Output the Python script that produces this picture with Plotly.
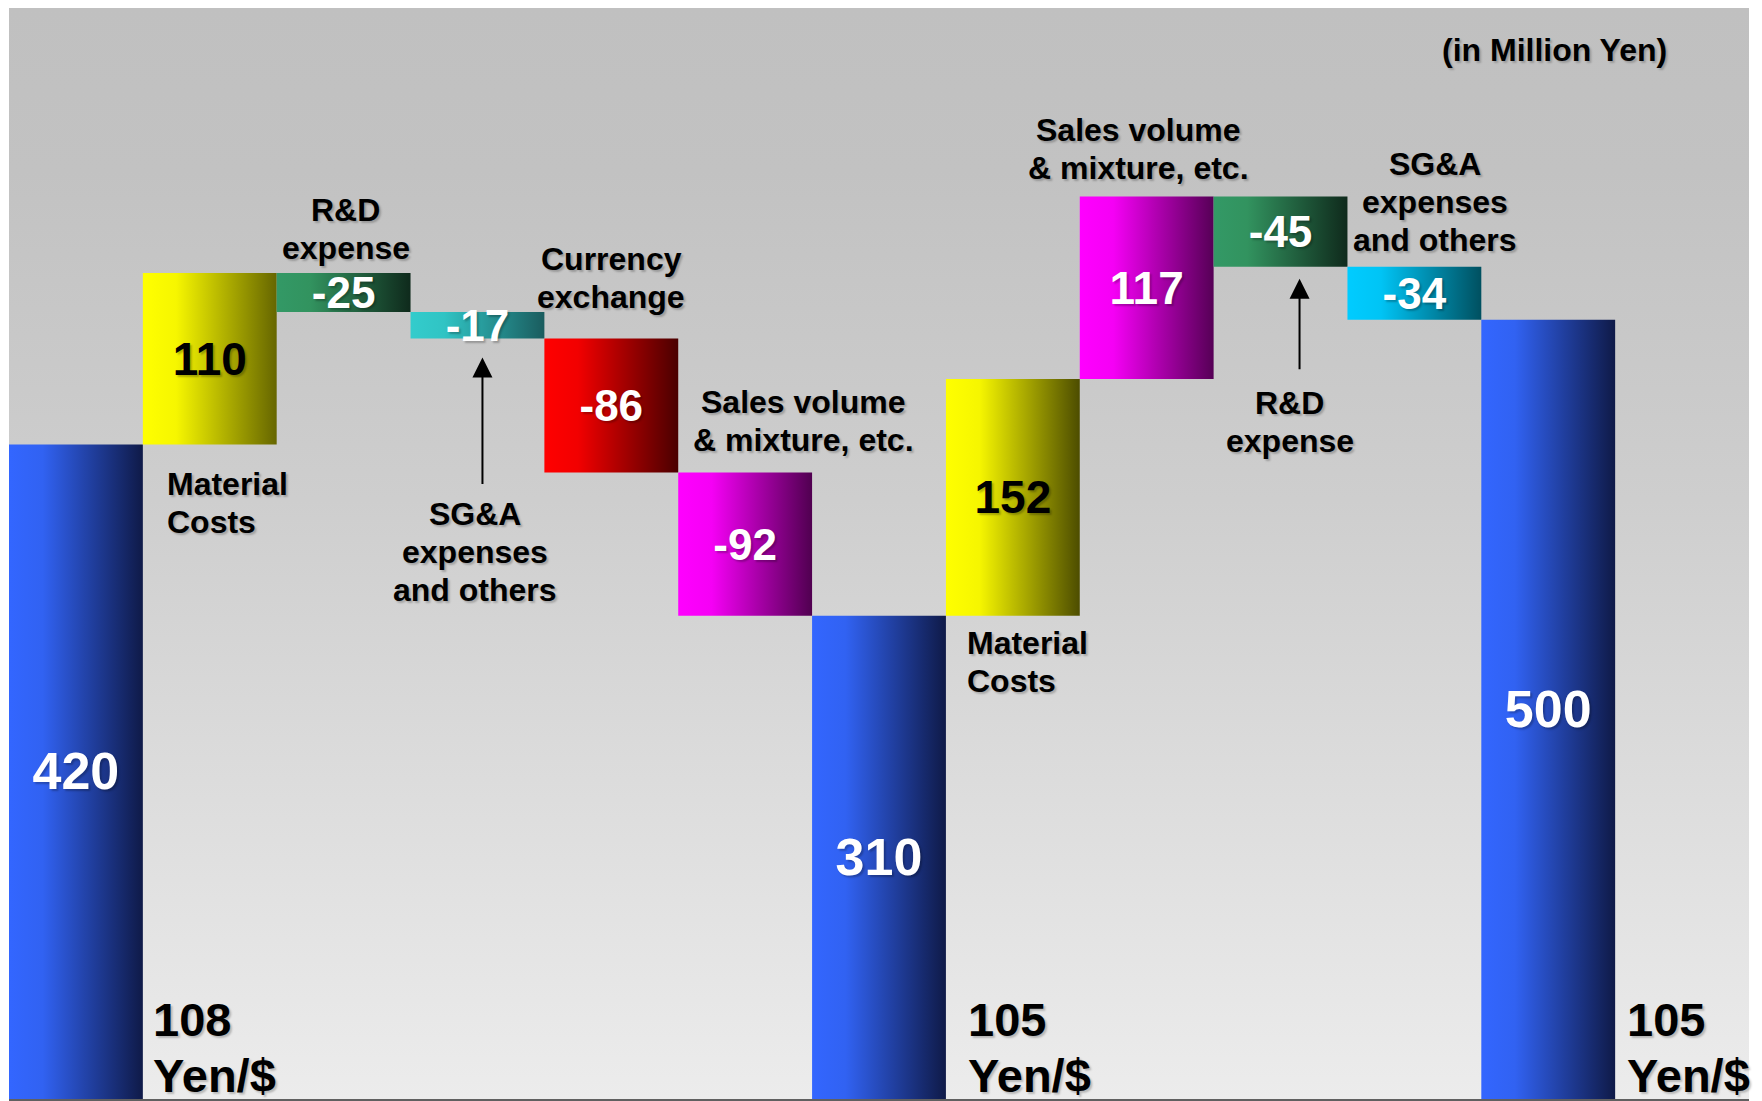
import plotly.graph_objects as go

# ---------------- data ----------------
categories = ["Previous FY", "Material Costs", "R&D expense", "SG&A expenses and others",
              "Currency exchange", "Sales volume & mixture, etc.", "Current FY",
              "Material Costs", "Sales volume & mixture, etc.", "R&D expense",
              "SG&A expenses and others", "Next FY"]
values = [420, 110, -25, -17, -86, -92, 310, 152, 117, -45, -34, 500]
measures = ["total", "relative", "relative", "relative", "relative", "relative", "total",
            "relative", "relative", "relative", "relative", "total"]
value_labels = ["420", "110", "-25", "-17", "-86", "-92", "310", "152", "117", "-45", "-34", "500"]
rate_values = ["108", "105", "105"]
rate_unit = "Yen/$"
unit_note = "(in Million Yen)"

# ---------------- styles ----------------
FONT = "Liberation Sans, Arial, Helvetica, sans-serif"
bar_grad = [
    ("#3366ff", "#3162f2", "#0f1a48"),
    ("#ffff00", "#f6f600", "#666600"),
    ("#339966", "#32935f", "#0f2a1c"),
    ("#33cccc", "#30c4c4", "#1a5c5e"),
    ("#ff0000", "#f20000", "#4a0000"),
    ("#ff00ff", "#f500f5", "#500050"),
    ("#3366ff", "#3162f2", "#0f1a48"),
    ("#ffff00", "#f6f600", "#4d4d00"),
    ("#ff00ff", "#f500f5", "#560056"),
    ("#339966", "#32935f", "#0f2a1c"),
    ("#00ccff", "#00c4f5", "#005060"),
    ("#3366ff", "#3162f2", "#0f1a48"),
]
label_colors = ["white", "black", "white", "white", "white", "white", "white",
                "black", "white", "white", "white", "white"]

WIDTH, HEIGHT = 1762, 1101
MARGIN = dict(l=9, r=13, t=8, b=2, pad=0)

# ---------------- waterfall geometry from data ----------------
lows, highs = [], []
running = 0
for v, m in zip(values, measures):
    if m == "total":
        b, t = 0, v
        running = v
    else:
        b, t = running, running + v
        running += v
    lows.append(min(b, t))
    highs.append(max(b, t))

n_slots = len(values) + 1
x_lo, x_hi = -0.5, n_slots - 0.5
y_lo, y_hi = 0, 700
px_per_unit = (HEIGHT - MARGIN["t"] - MARGIN["b"]) / (y_hi - y_lo)

fig = go.Figure()

# background vertical gradient
fig.add_trace(go.Scatter(
    x=[x_lo, x_hi, x_hi, x_lo, x_lo], y=[y_lo, y_lo, y_hi, y_hi, y_lo],
    mode="lines", fill="toself", line=dict(width=0),
    fillgradient=dict(type="vertical",
                      colorscale=[[0, "#ececec"], [0.55, "#cecece"], [0.85, "#c2c2c2"], [1, "#c0c0c0"]]),
    hoverinfo="skip", showlegend=False))

# bars with horizontal gradient
for i, (lo, hi) in enumerate(zip(lows, highs)):
    c1, c2, c3 = bar_grad[i]
    fig.add_trace(go.Scatter(
        x=[i - 0.5, i + 0.5, i + 0.5, i - 0.5, i - 0.5],
        y=[lo, lo, hi, hi, lo],
        mode="lines", fill="toself", line=dict(width=0),
        fillgradient=dict(type="horizontal",
                          colorscale=[[0, c1], [0.25, c2], [1, c3]]),
        name=categories[i], hoverinfo="skip", showlegend=False))

# value labels
def vsize(m, lab):
    if m == "total":
        return 52
    return 44 if lab.startswith("-") else 46

label_drop_px = 4.5
fig.add_trace(go.Scatter(
    x=list(range(len(values))),
    y=[(lo + hi) / 2 - label_drop_px / px_per_unit for lo, hi in zip(lows, highs)],
    mode="text", text=value_labels,
    textfont=dict(family=FONT, weight=700,
                  size=[vsize(m, l) for m, l in zip(measures, value_labels)],
                  color=label_colors,
                  shadow="2px 2px 2px rgba(0,0,0,0.25)"),
    textposition="middle center", cliponaxis=False,
    hoverinfo="skip", showlegend=False))

annotations = []
lab_font = dict(family=FONT, size=32, color="black", weight=700,
                shadow="2px 2px 2px rgba(0,0,0,0.22)")
PITCH = 38  # px between label lines

# category labels: (index, lines, side, xanchor, xshift, first-line offset px (up +))
label_specs = [
    (1, ["Material", "Costs"], "below", "left", 22, -38.6),
    (2, ["R&D", "expense"], "above", "center", 2, 63),
    (3, ["SG&A", "expenses", "and others"], "below", "center", -2, -175),
    (4, ["Currency", "exchange"], "above", "center", 0, 80),
    (5, ["Sales volume", "& mixture, etc."], "above", "center", 58, 70.5),
    (7, ["Material", "Costs"], "below", "left", 19, -27),
    (8, ["Sales volume", "& mixture, etc."], "above", "center", -8, 66.6),
    (9, ["R&D", "expense"], "below", "center", 9, -135.3),
    (10, ["SG&A", "expenses", "and others"], "above", "center", 21, 103.7),
]
for idx, lines, side, xa, xs, off in label_specs:
    xpos = idx - 0.5 if xa == "left" else idx
    ypos = highs[idx] if side == "above" else lows[idx]
    for j, line in enumerate(lines):
        annotations.append(dict(
            x=xpos, y=ypos, xref="x", yref="y", text=line, showarrow=False,
            xanchor=xa, yanchor="middle",
            xshift=xs, yshift=off - j * PITCH - 0.5, font=lab_font))

# arrows pointing to small bars: (index, xshift, standoff, length)
arrow_specs = [(3, 5, 19, 147), (9, 19, 12, 104)]
for idx, xs, so, ln in arrow_specs:
    annotations.append(dict(
        x=idx, y=lows[idx], xref="x", yref="y", text="",
        showarrow=True, ax=0, ay=ln, axref="pixel", ayref="pixel",
        arrowhead=2, arrowsize=2, arrowwidth=2, arrowcolor="black",
        standoff=so, xshift=xs))

# exchange-rate labels next to total bars
total_idx = [i for i, m in enumerate(measures) if m == "total"]
rate_xshift = [8, 20, 10]
rate_font = dict(family=FONT, size=47, color="black", weight=700,
                 shadow="2px 2px 2px rgba(0,0,0,0.22)")
for k, idx in enumerate(total_idx):
    for txt, ys in ((rate_values[k], 79.5), (rate_unit, 23.5)):
        annotations.append(dict(
            x=idx + 0.5, y=0, xref="x", yref="y", text=txt,
            showarrow=False, xanchor="left", yanchor="middle",
            xshift=rate_xshift[k], yshift=ys, font=rate_font))

annotations.append(dict(
    x=0.8885, y=0.9615, xref="paper", yref="paper", text=unit_note,
    showarrow=False, xanchor="center", yanchor="middle",
    font=dict(family=FONT, size=32, color="black", weight=700,
              shadow="2px 2px 2px rgba(0,0,0,0.2)")))

fig.update_layout(
    width=WIDTH, height=HEIGHT,
    margin=MARGIN,
    paper_bgcolor="white", plot_bgcolor="white",
    xaxis=dict(range=[x_lo, x_hi], showgrid=False, zeroline=False, showticklabels=False,
               ticks="", showline=True, linecolor="#606060", linewidth=2, fixedrange=True),
    yaxis=dict(range=[y_lo, y_hi], showgrid=False, zeroline=False, showticklabels=False,
               ticks="", showline=False, fixedrange=True),
    annotations=annotations,
    showlegend=False,
)

fig.write_html("out.html", config={"displayModeBar": False},
               post_script="document.body.style.margin='0px';document.body.style.overflow='hidden';")
